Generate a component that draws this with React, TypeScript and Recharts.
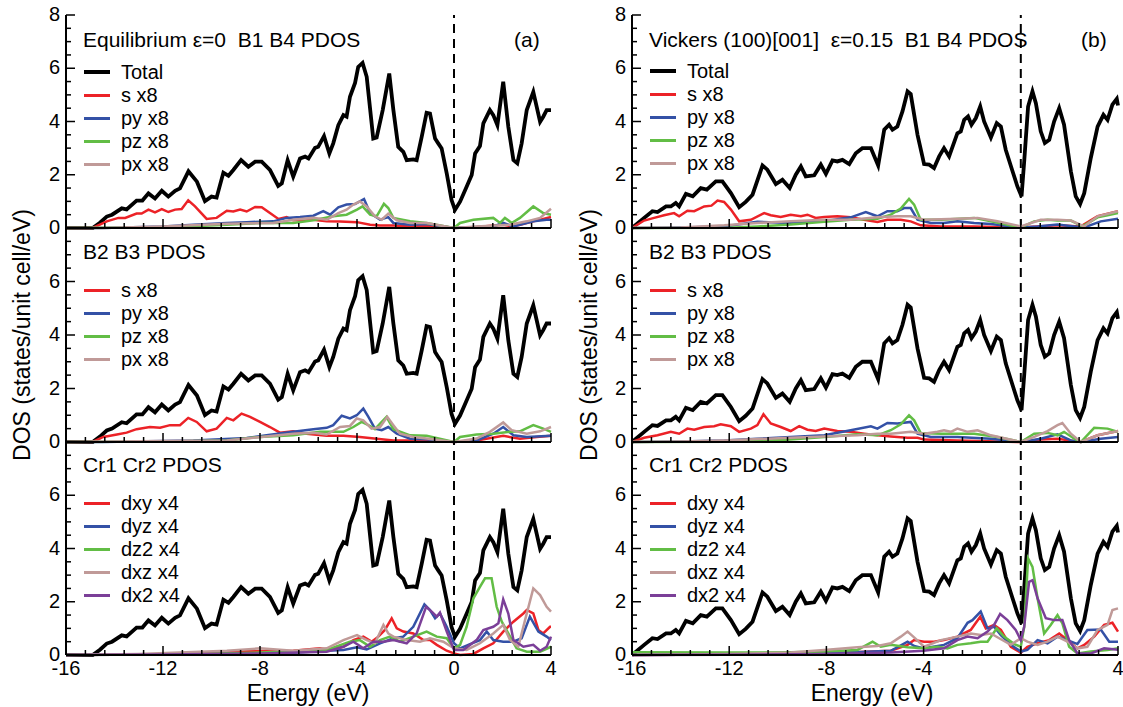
import { LineChart, Line, XAxis, YAxis, ReferenceLine } from 'recharts';

const FONT = '"Liberation Sans", Arial, Helvetica, sans-serif';

type Pt = [number, number];

// total DOS, equilibrium (left column) and Vickers strained (right column)
const TOTAL_EQ: Pt[] = [[-16,0],[-14.9,0],[-14.6,0.2],[-14.32,0.43],[-14.1,0.5],[-13.7,0.74],[-13.5,0.7],[-13.09,1.03],[-12.85,1.03],[-12.6,1.3],[-12.33,1.11],[-12.05,1.4],[-11.78,1.18],[-11.5,1.4],[-11.3,1.49],[-10.95,2.13],[-10.6,1.74],[-10.27,1.01],[-10.0,1.18],[-9.79,1.14],[-9.51,2.08],[-9.3,1.96],[-9.1,2.18],[-8.78,2.55],[-8.48,2.3],[-8.2,2.49],[-7.93,2.49],[-7.59,2.18],[-7.25,1.58],[-7.1,1.68],[-6.86,2.55],[-6.63,1.93],[-6.35,2.61],[-6.14,2.68],[-6.0,2.61],[-5.73,3.01],[-5.6,3.05],[-5.36,3.45],[-5.14,2.8],[-4.98,3.18],[-4.77,3.86],[-4.56,4.24],[-4.43,4.18],[-4.29,4.93],[-4.08,5.45],[-3.95,6.05],[-3.77,6.2],[-3.6,5.68],[-3.33,3.36],[-3.19,3.4],[-2.94,4.43],[-2.67,5.8],[-2.5,4.43],[-2.3,3.05],[-2.09,2.86],[-1.95,2.55],[-1.68,2.58],[-1.54,2.55],[-1.33,3.43],[-1.13,4.33],[-0.99,4.3],[-0.78,3.36],[-0.65,3.18],[-0.51,2.99],[-0.3,2.05],[-0.1,1.05],[0.04,0.68],[0.25,0.99],[0.52,1.55],[0.73,1.99],[0.87,2.8],[1.07,3.08],[1.21,3.93],[1.48,4.43],[1.62,4.24],[1.79,3.86],[2.03,5.49],[2.24,3.8],[2.45,2.55],[2.61,2.43],[2.79,3.18],[3.0,4.43],[3.27,5.11],[3.55,3.99],[3.68,4.18],[3.82,4.43],[4.0,4.43]];
const TOTAL_VK: Pt[] = [[-16,0],[-15.5,0.38],[-15.16,0.63],[-14.95,0.6],[-14.6,0.81],[-14.4,0.81],[-14.2,0.94],[-14.06,0.81],[-13.78,1.28],[-13.5,1.19],[-13.17,1.5],[-12.92,1.44],[-12.55,1.75],[-12.28,1.75],[-11.93,1.31],[-11.59,0.78],[-11.32,0.98],[-11.04,1.25],[-10.63,2.35],[-10.43,2.19],[-10.08,1.65],[-9.81,1.81],[-9.51,1.5],[-9.26,2.0],[-9.05,2.31],[-8.85,1.94],[-8.5,1.98],[-8.23,2.38],[-8.02,2.03],[-7.75,2.54],[-7.55,2.5],[-7.34,2.56],[-7.06,2.4],[-6.79,2.81],[-6.52,3.0],[-6.17,3.0],[-5.87,2.35],[-5.62,3.69],[-5.42,3.88],[-5.28,3.69],[-5.08,3.81],[-4.87,4.38],[-4.66,5.13],[-4.53,5.03],[-4.25,3.5],[-3.98,2.4],[-3.77,2.38],[-3.57,2.25],[-3.36,2.69],[-3.16,3.0],[-2.95,2.69],[-2.61,3.56],[-2.47,3.63],[-2.33,4.06],[-2.17,4.19],[-2.03,3.88],[-1.85,4.13],[-1.67,4.56],[-1.51,4.0],[-1.23,3.4],[-0.99,3.94],[-0.82,3.81],[-0.62,2.94],[-0.34,2.13],[-0.14,1.56],[0.03,1.19],[0.14,2.5],[0.3,4.56],[0.48,5.13],[0.62,4.69],[0.82,3.63],[0.99,3.19],[1.17,3.31],[1.37,4.0],[1.58,4.5],[1.78,3.88],[2.06,2.13],[2.26,1.19],[2.44,0.9],[2.61,1.31],[2.88,2.63],[3.16,3.81],[3.4,4.25],[3.57,4.06],[3.77,4.63],[3.95,4.85],[4.0,4.6]];

// B1 B4 PDOS, equilibrium
const EQ_B14_S: Pt[] = [[-16,0],[-14.9,0],[-14.32,0.25],[-13.84,0.38],[-13.56,0.38],[-13.09,0.54],[-12.88,0.54],[-12.6,0.69],[-12.33,0.59],[-12.05,0.71],[-11.78,0.6],[-11.5,0.69],[-11.23,0.71],[-10.96,1.04],[-10.68,0.81],[-10.2,0.34],[-9.79,0.38],[-9.37,0.65],[-9.1,0.62],[-8.82,0.69],[-8.55,0.62],[-8.2,0.79],[-7.93,0.78],[-7.59,0.56],[-7.24,0.34],[-6.9,0.41],[-6.63,0.29],[-6.2,0.31],[-5.8,0.31],[-5.25,0.25],[-4.7,0.24],[-4.0,0.22],[-3.46,0.12],[-3.05,0.09],[-2.5,0.09],[-1.81,0.06],[-1.13,0.09],[-0.44,0.04],[0,0],[0.93,0.04],[2.03,0.12],[2.45,0.06],[3.27,0.25],[3.68,0.34],[4,0.41]];
const EQ_B14_PY: Pt[] = [[-16,0],[-14.5,0],[-12,0.06],[-10.75,0.12],[-9.37,0.19],[-8.55,0.22],[-7.45,0.25],[-6.9,0.38],[-6.35,0.41],[-5.8,0.46],[-5.39,0.63],[-5.11,0.5],[-4.77,0.78],[-4.43,0.88],[-4.08,0.9],[-3.71,1.09],[-3.46,0.56],[-3.05,0.31],[-2.71,0.41],[-2.5,0.19],[-1.81,0.12],[-1.13,0.15],[0,0],[0.93,0.04],[1.62,0.06],[2.03,0.19],[2.45,0.06],[3.27,0.25],[3.82,0.31],[4,0.31]];
const EQ_B14_PZ: Pt[] = [[-16,0],[-12,0.02],[-9.37,0.12],[-8,0.19],[-6.63,0.19],[-5.8,0.29],[-4.98,0.44],[-4.43,0.5],[-4.0,0.69],[-3.77,0.81],[-3.46,0.5],[-3.19,0.44],[-2.89,0.91],[-2.71,0.75],[-2.5,0.38],[-1.81,0.25],[-1.13,0.19],[0,0],[0.25,0.19],[0.8,0.31],[1.62,0.38],[1.9,0.19],[2.1,0.38],[2.38,0.19],[2.72,0.38],[3.27,0.81],[3.68,0.56],[4,0.5]];
const EQ_B14_PX: Pt[] = [[-16,0],[-14.5,0],[-12,0.06],[-9.37,0.16],[-7.45,0.19],[-6.63,0.31],[-5.8,0.38],[-5.25,0.31],[-4.77,0.56],[-4.43,0.69],[-4.15,0.88],[-3.88,1.0],[-3.6,0.81],[-3.26,0.44],[-2.98,0.31],[-2.71,0.54],[-2.36,0.29],[-1.81,0.19],[-1.13,0.19],[0,0],[0.93,0.06],[2.31,0.12],[3.0,0.25],[3.55,0.38],[4,0.72]];

// B2 B3 PDOS, equilibrium
const EQ_B23_S: Pt[] = [[-16,0],[-14.9,0],[-14.46,0.19],[-13.9,0.28],[-13.5,0.35],[-13.09,0.48],[-12.54,0.56],[-12.12,0.53],[-11.71,0.63],[-11.3,0.63],[-10.96,0.9],[-10.61,0.75],[-10.2,0.4],[-9.79,0.5],[-9.37,0.9],[-9.1,0.81],[-8.76,1.06],[-8.41,0.94],[-8.0,0.75],[-7.59,0.56],[-7.18,0.35],[-6.63,0.4],[-6.08,0.31],[-5.25,0.23],[-4.56,0.23],[-3.88,0.19],[-3.19,0.12],[-2.5,0.06],[-1.13,0.06],[0,0],[0.93,0.06],[2.03,0.23],[2.72,0.12],[3.41,0.19],[4,0.23]];
const EQ_B23_PY: Pt[] = [[-16,0],[-14.5,0],[-10.75,0.06],[-8.55,0.15],[-7.73,0.25],[-6.63,0.38],[-5.8,0.48],[-5.25,0.53],[-4.98,0.63],[-4.63,0.98],[-4.29,0.88],[-4.01,1.0],[-3.74,1.25],[-3.53,0.94],[-3.26,0.5],[-2.98,0.44],[-2.71,0.56],[-2.36,0.31],[-1.81,0.12],[-1.13,0.1],[0,0],[0.93,0.06],[1.62,0.31],[2.03,0.56],[2.45,0.25],[3.0,0.19],[4,0.23]];
const EQ_B23_PZ: Pt[] = [[-16,0],[-12,0.02],[-9.37,0.06],[-8,0.19],[-6.63,0.25],[-5.53,0.38],[-4.56,0.38],[-4.15,0.56],[-3.81,0.75],[-3.53,0.63],[-3.26,0.48],[-2.98,0.75],[-2.78,0.94],[-2.5,0.48],[-1.81,0.25],[-1.13,0.23],[0,0],[0.25,0.19],[0.93,0.28],[1.62,0.31],[2.31,0.38],[2.72,0.4],[3.27,0.63],[3.68,0.5],[4,0.38]];
const EQ_B23_PX: Pt[] = [[-16,0],[-12,0.04],[-9.37,0.06],[-7.45,0.23],[-6.63,0.31],[-5.8,0.35],[-5.25,0.28],[-4.7,0.56],[-4.29,0.6],[-4.01,0.88],[-3.74,0.81],[-3.4,0.5],[-3.05,0.56],[-2.75,0.94],[-2.5,0.63],[-2.23,0.31],[-1.68,0.19],[-1.13,0.13],[0,0],[0.93,0.13],[1.48,0.38],[2.03,0.73],[2.38,0.44],[3.0,0.31],[3.55,0.4],[4,0.56]];

// Cr1 Cr2 PDOS, equilibrium
const EQ_CR_DXY: Pt[] = [[-16,0],[-13,0.02],[-10.75,0.06],[-9.37,0.12],[-8,0.15],[-6.63,0.16],[-5.53,0.25],[-5.11,0.19],[-4.56,0.31],[-4.15,0.56],[-3.74,0.69],[-3.4,0.5],[-3.12,0.69],[-2.85,0.94],[-2.57,1.38],[-2.36,1.0],[-2.09,0.88],[-1.68,0.81],[-1.26,0.56],[-0.99,0.56],[-0.71,0.38],[-0.3,0.16],[0,0.06],[0.25,0],[0.8,0.04],[1.21,0.25],[1.62,0.44],[2.03,0.88],[2.45,1.25],[2.86,1.56],[3.0,1.69],[3.27,1.56],[3.48,0.94],[3.68,0.81],[3.96,1.06],[4,1.06]];
const EQ_CR_DYZ: Pt[] = [[-16,0],[-13,0.02],[-9.37,0.04],[-6.63,0.08],[-5.25,0.16],[-4.56,0.19],[-4.0,0.29],[-3.6,0.21],[-3.05,0.44],[-2.5,0.63],[-2.09,0.69],[-1.68,1.06],[-1.22,1.9],[-0.99,1.69],[-0.78,1.38],[-0.58,1.56],[-0.3,1.06],[0,0.44],[0.25,0.25],[0.66,0.41],[1.07,0.56],[1.35,0.88],[1.62,0.56],[2.03,0.5],[2.45,0.5],[2.79,0.63],[3.13,1.44],[3.48,0.88],[3.82,0.69],[4,0.56]];
const EQ_CR_DZ2: Pt[] = [[-16,0],[-12,0.02],[-8,0.09],[-5.25,0.19],[-4.29,0.5],[-3.88,0.56],[-3.46,0.31],[-3.05,0.56],[-2.64,0.69],[-2.23,0.5],[-1.68,0.69],[-1.13,0.88],[-0.71,0.69],[-0.3,0.63],[0,0.25],[0.25,0.38],[0.52,1.06],[0.8,2.13],[1.07,2.56],[1.28,2.88],[1.55,2.88],[1.76,1.81],[1.97,1.25],[2.24,0.81],[2.58,0.25],[3.0,0.12],[3.55,0.12],[4,0.31]];
const EQ_CR_DXZ: Pt[] = [[-16,0],[-13,0.04],[-9.37,0.16],[-8,0.25],[-6.63,0.16],[-5.25,0.25],[-4.56,0.56],[-4.0,0.75],[-3.6,0.56],[-3.26,0.44],[-2.91,1.13],[-2.71,0.81],[-2.5,0.69],[-1.95,0.56],[-1.4,0.5],[-0.99,0.63],[-0.44,0.5],[0,0.25],[0.52,0.19],[1.07,0.44],[1.62,0.81],[2.03,1.13],[2.31,0.56],[2.65,0.31],[2.93,1.31],[3.27,2.5],[3.55,2.25],[3.82,1.81],[4,1.63]];
const EQ_CR_DX2: Pt[] = [[-16,0],[-12,0.02],[-8,0.06],[-5.25,0.12],[-4.56,0.31],[-4.15,0.5],[-3.74,0.25],[-3.33,0.5],[-2.91,0.5],[-2.5,0.56],[-1.95,0.44],[-1.54,0.81],[-1.15,1.81],[-0.92,1.63],[-0.71,1.44],[-0.58,1.59],[-0.3,0.88],[0,0.19],[0.38,0.19],[0.93,0.56],[1.21,0.94],[1.62,1.06],[1.83,1.19],[2.03,2.09],[2.24,1.56],[2.45,0.56],[2.86,0.31],[3.27,0.38],[3.55,0.16],[3.82,0.31],[4,0.69]];

// B1 B4 PDOS, Vickers
const VK_B14_S: Pt[] = [[-16,0],[-15.5,0.28],[-15.09,0.38],[-14.68,0.48],[-14.27,0.56],[-14.06,0.44],[-13.72,0.65],[-13.44,0.63],[-13.03,0.81],[-12.73,0.84],[-12.48,1.03],[-12.21,0.98],[-11.93,0.69],[-11.59,0.25],[-11.11,0.31],[-10.56,0.56],[-10.29,0.48],[-9.88,0.41],[-9.47,0.5],[-9.05,0.44],[-8.78,0.5],[-8.44,0.38],[-8.09,0.41],[-7.55,0.44],[-7.0,0.4],[-6.45,0.31],[-5.9,0.23],[-5.49,0.31],[-4.94,0.31],[-4.53,0.25],[-4.12,0.1],[-3.29,0.06],[-1.92,0.06],[0,0.02],[1.51,0.1],[2.47,0.06],[3.16,0.44],[4,0.63]];
const VK_B14_PY: Pt[] = [[-16,0],[-14,0.02],[-12.2,0.06],[-10.84,0.23],[-9.47,0.19],[-8.09,0.25],[-7.0,0.4],[-6.38,0.6],[-5.9,0.44],[-5.49,0.63],[-5.08,0.63],[-4.8,0.75],[-4.53,0.75],[-4.25,0.31],[-3.7,0.19],[-3.16,0.19],[-2.61,0.25],[-1.92,0.19],[-1.23,0.15],[0,0.02],[0.69,0.06],[1.51,0.13],[2.2,0.06],[2.61,0.02],[3.29,0.25],[4,0.35]];
const VK_B14_PZ: Pt[] = [[-16,0],[-12,0.01],[-10.84,0.06],[-9.47,0.13],[-8.09,0.23],[-7.0,0.31],[-5.9,0.35],[-5.35,0.5],[-4.94,0.73],[-4.6,1.09],[-4.39,0.88],[-4.12,0.31],[-3.29,0.31],[-1.92,0.38],[-1.23,0.25],[0,0.02],[0.55,0.25],[1.1,0.31],[1.51,0.28],[2.06,0.28],[2.54,0.06],[3.16,0.4],[3.57,0.48],[4,0.56]];
const VK_B14_PX: Pt[] = [[-16,0],[-14,0.02],[-12.2,0.1],[-10.84,0.19],[-9.47,0.25],[-8.09,0.31],[-7.0,0.31],[-5.9,0.4],[-5.08,0.44],[-4.53,0.44],[-3.98,0.31],[-2.61,0.35],[-1.78,0.38],[-0.96,0.25],[0,0.06],[0.82,0.31],[1.51,0.31],[2.06,0.28],[2.61,0.06],[3.16,0.44],[4,0.63]];

// B2 B3 PDOS, Vickers
const VK_B23_S: Pt[] = [[-16,0],[-15.5,0.16],[-14.95,0.25],[-14.4,0.38],[-14.06,0.31],[-13.72,0.5],[-13.44,0.46],[-13.03,0.56],[-12.62,0.59],[-12.35,0.66],[-11.93,0.59],[-11.59,0.38],[-11.11,0.5],[-10.84,0.63],[-10.59,1.04],[-10.29,0.69],[-9.88,0.56],[-9.47,0.41],[-9.12,0.59],[-8.78,0.46],[-8.44,0.41],[-8.09,0.5],[-7.55,0.41],[-7.0,0.38],[-6.45,0.31],[-5.9,0.25],[-5.35,0.21],[-4.66,0.16],[-4.25,0.16],[-3.98,0.09],[-2.61,0.06],[0,0],[0.82,0.09],[1.51,0.12],[2.47,0],[3.16,0.25],[4,0.41]];
const VK_B23_PY: Pt[] = [[-16,0],[-14,0.02],[-12.2,0.06],[-10.84,0.12],[-9.47,0.19],[-8.09,0.25],[-7.0,0.44],[-6.17,0.59],[-5.9,0.5],[-5.49,0.71],[-5.08,0.69],[-4.53,0.75],[-4.25,0.31],[-3.7,0.19],[-2.61,0.19],[-1.23,0.12],[0,0],[0.82,0.12],[1.51,0.29],[2.06,0.06],[2.47,0],[3.29,0.12],[4,0.19]];
const VK_B23_PZ: Pt[] = [[-16,0],[-12,0.01],[-10.84,0.04],[-9.47,0.09],[-8.09,0.19],[-6.72,0.29],[-5.9,0.25],[-5.35,0.44],[-4.94,0.66],[-4.6,1.0],[-4.39,0.81],[-4.12,0.34],[-3.29,0.31],[-1.92,0.31],[-0.96,0.19],[0,0],[0.55,0.31],[1.1,0.34],[1.51,0.25],[1.78,0.38],[2.2,0.12],[2.47,0],[3.02,0.53],[3.57,0.5],[4,0.38]];
const VK_B23_PX: Pt[] = [[-16,0],[-14,0.02],[-12.2,0.06],[-9.47,0.16],[-8.09,0.21],[-6.72,0.25],[-5.9,0.31],[-5.35,0.31],[-4.53,0.38],[-3.98,0.31],[-3.43,0.38],[-3.16,0.44],[-2.88,0.38],[-2.61,0.5],[-2.19,0.38],[-1.78,0.44],[-1.23,0.25],[0,0],[0.55,0.19],[1.1,0.41],[1.51,0.63],[1.71,0.71],[2.06,0.31],[2.47,0],[3.16,0.25],[4,0.41]];

// Cr1 Cr2 PDOS, Vickers
const VK_CR_DXY: Pt[] = [[-16,0],[-12,0.02],[-8.09,0.06],[-5.35,0.16],[-4.66,0.38],[-4.39,0.56],[-3.98,0.5],[-3.57,0.5],[-3.16,0.56],[-2.61,0.69],[-2.06,0.94],[-1.67,1.44],[-1.44,1.0],[-1.1,1.13],[-0.82,0.94],[-0.41,0.31],[0,0.09],[0.27,0.31],[0.69,0.44],[1.17,0.56],[1.58,0.81],[1.92,0.56],[2.33,0.25],[2.61,0.38],[3.02,0.69],[3.43,1.13],[3.77,1.21],[4,0.88]];
const VK_CR_DYZ: Pt[] = [[-16,0],[-12,0.02],[-8.09,0.06],[-5.35,0.16],[-4.66,0.5],[-4.39,0.34],[-3.98,0.25],[-3.16,0.38],[-2.61,0.63],[-2.19,1.21],[-1.99,1.31],[-1.65,1.63],[-1.37,1.0],[-1.1,1.06],[-0.82,0.75],[-0.41,0.38],[0,0.13],[0.27,0.19],[0.69,0.56],[1.1,0.44],[1.51,0.69],[1.92,0.56],[2.33,0.41],[2.74,0.94],[3.29,0.96],[3.64,0.5],[4,0.5]];
const VK_CR_DZ2: Pt[] = [[-16,0.1],[-12,0.09],[-9.47,0.1],[-8.09,0.13],[-6.72,0.19],[-6.1,0.5],[-5.76,0.31],[-5.35,0.38],[-4.66,0.29],[-3.98,0.25],[-3.43,0.31],[-3.02,0.25],[-2.61,0.38],[-2.06,0.44],[-1.65,0.5],[-1.37,0.5],[-0.99,1.0],[-0.69,0.69],[-0.27,0.41],[0,0.31],[0.14,1.06],[0.3,3.63],[0.48,3.31],[0.69,2.13],[0.96,0.81],[1.23,1.13],[1.51,1.5],[1.71,1.19],[1.99,0.31],[2.33,0.06],[2.88,0.13],[3.57,0.19],[4,0.25]];
const VK_CR_DXZ: Pt[] = [[-16,0],[-12,0.04],[-9.47,0.09],[-8.09,0.19],[-6.72,0.29],[-5.9,0.34],[-5.35,0.44],[-4.94,0.69],[-4.66,0.88],[-4.39,0.66],[-3.98,0.31],[-3.29,0.56],[-2.61,0.69],[-2.06,0.81],[-1.65,0.75],[-1.23,0.81],[-0.89,0.63],[-0.41,0.38],[0,0.63],[0.27,0.5],[0.69,0.38],[1.1,0.5],[1.51,0.69],[1.92,0.5],[2.33,0.25],[2.74,0.31],[3.16,0.94],[3.57,1.13],[3.77,1.69],[4,1.75]];
const VK_CR_DX2: Pt[] = [[-16,0],[-12,0.01],[-8.09,0.04],[-5.35,0.09],[-4.0,0.16],[-3.16,0.25],[-2.61,0.56],[-2.19,0.69],[-1.78,0.63],[-1.37,0.88],[-1.1,1.13],[-0.85,1.54],[-0.55,1.31],[-0.21,0.94],[0,0.56],[0.14,1.06],[0.34,2.75],[0.48,2.81],[0.69,2.13],[1.03,1.38],[1.37,1.31],[1.71,1.31],[1.99,0.56],[2.33,0.06],[2.88,0.06],[3.43,0.25],[4,0.2]];

const P_LABELS = ['s x8', 'py x8', 'pz x8', 'px x8'];
const D_LABELS = ['dxy x4', 'dyz x4', 'dz2 x4', 'dxz x4', 'dx2 x4'];
const P_COLORS = ['#ec2227', '#3451a6', '#62bd45', '#c09a98'];
const D_COLORS = ['#ec2227', '#3451a6', '#62bd45', '#c09a98', '#7b3f98'];

const X_TICKS = Array.from({ length: 26 }, (_, i) => -16 + i * 0.8);
const Y_TICKS = Array.from({ length: 17 }, (_, i) => i * 0.5);

const COL_LEFT = [66, 632];
const COL_W = [485, 486];
const ROW_TOP = [15, 228, 442];
const ROW_H = [213, 214, 213];
const YW = 46;
const PAD = 14;

const toData = (pts: Pt[]) => pts.map(([e, v]) => ({ e, v }));
const isMajorX = (v: number) => Math.abs(Math.round(v * 10) % 40) === 0;
const isMajorY = (v: number) => Math.abs(Math.round(v * 10) % 20) === 0;

function BottomTick(props: any) {
  const { x, y, payload, showLabel } = props;
  const major = isMajorX(payload.value);
  return (
    <g>
      <line x1={x} x2={x} y1={y} y2={y - (major ? 9 : 5)} stroke="#000" strokeWidth={1.5} />
      {showLabel && major && (
        <text x={x} y={y + 20} textAnchor="middle" fontSize={20} fontFamily={FONT} fill="#000">
          {Math.round(payload.value)}
        </text>
      )}
    </g>
  );
}

function TopTick(props: any) {
  const { x, y, payload } = props;
  const major = isMajorX(payload.value);
  return <line x1={x} x2={x} y1={y} y2={y + (major ? 9 : 5)} stroke="#000" strokeWidth={1.5} />;
}

function LeftTick(props: any) {
  const { x, y, payload, showTop } = props;
  const v = payload.value;
  const major = isMajorY(v);
  const label = major && (v < 7.9 || showTop);
  return (
    <g>
      <line x1={x} x2={x + (major ? 9 : 5)} y1={y} y2={y} stroke="#000" strokeWidth={1.5} />
      {label && (
        <text x={x - 6} y={y + 6} textAnchor="end" fontSize={20} fontFamily={FONT} fill="#000">
          {Math.round(v)}
        </text>
      )}
    </g>
  );
}

function RightTick(props: any) {
  const { x, y, payload } = props;
  const major = isMajorY(payload.value);
  return <line x1={x} x2={x - (major ? 9 : 5)} y1={y} y2={y} stroke="#000" strokeWidth={1.5} />;
}

type PanelProps = {
  col: number;
  row: number;
  total: Pt[];
  series: Pt[][];
  labels: string[];
  colors: string[];
  title: string;
  tag?: string;
  legendTop: number;
  titleTop: number;
};

function Panel({ col, row, total, series, labels, colors, title, tag, legendTop, titleTop }: PanelProps) {
  const left = COL_LEFT[col];
  const top = ROW_TOP[row];
  const w = COL_W[col];
  const h = ROW_H[row];
  const bottom = row === 2;
  const xh = bottom ? 34 : PAD;
  const legend = [
    ...(row === 0 ? [{ label: 'Total', color: '#000', thick: true }] : []),
    ...labels.map((l, i) => ({ label: l, color: colors[i], thick: false })),
  ];
  const text = { position: 'absolute' as const, fontFamily: FONT, fontSize: 20, color: '#000', whiteSpace: 'pre' as const, lineHeight: '22px' };
  return (
    <>
      <div style={{ position: 'absolute', left: left - YW, top: top - PAD }}>
        <LineChart
          width={YW + w + PAD}
          height={PAD + h + xh}
          margin={{ top: PAD, right: PAD, bottom: 0, left: 0 }}
        >
          <XAxis
            xAxisId="b"
            dataKey="e"
            type="number"
            domain={[-16, 4]}
            ticks={X_TICKS}
            interval={0}
            height={xh}
            tickSize={0}
            tickMargin={0}
            tickLine={false}
            axisLine={{ stroke: '#000', strokeWidth: 2 }}
            tick={<BottomTick showLabel={bottom} />}
          />
          <XAxis
            xAxisId="t"
            orientation="top"
            dataKey="e"
            type="number"
            domain={[-16, 4]}
            ticks={X_TICKS}
            interval={0}
            height={0}
            tickSize={0}
            tickMargin={0}
            tickLine={false}
            axisLine={{ stroke: '#000', strokeWidth: 2 }}
            tick={<TopTick />}
          />
          <YAxis
            yAxisId="l"
            type="number"
            domain={[0, 8]}
            ticks={Y_TICKS}
            interval={0}
            width={YW}
            tickSize={0}
            tickMargin={0}
            tickLine={false}
            axisLine={{ stroke: '#000', strokeWidth: 2 }}
            tick={<LeftTick showTop={row === 0} />}
          />
          <YAxis
            yAxisId="r"
            orientation="right"
            type="number"
            domain={[0, 8]}
            ticks={Y_TICKS}
            interval={0}
            width={0}
            tickSize={0}
            tickMargin={0}
            tickLine={false}
            axisLine={{ stroke: '#000', strokeWidth: 2 }}
            tick={<RightTick />}
          />
          <ReferenceLine xAxisId="b" yAxisId="l" x={0} stroke="#000" strokeWidth={2} strokeDasharray="9 6" />
          <Line
            xAxisId="b"
            yAxisId="l"
            data={toData(total)}
            dataKey="v"
            type="linear"
            stroke="#000"
            strokeWidth={3.8}
            dot={false}
            isAnimationActive={false}
          />
          {series.map((s, i) => (
            <Line
              key={labels[i]}
              xAxisId="b"
              yAxisId="l"
              data={toData(s)}
              dataKey="v"
              type="linear"
              stroke={colors[i]}
              strokeWidth={2.5}
              dot={false}
              isAnimationActive={false}
            />
          ))}
        </LineChart>
      </div>
      <div style={{ ...text, fontSize: 21, left: left + 17, top: top + titleTop - 11 }}>{title}</div>
      {tag && <div style={{ ...text, fontSize: 21, left: left + w - 37, top: top + titleTop - 11 }}>{tag}</div>}
      {legend.map((it, i) => (
        <div key={it.label}>
          <div
            style={{
              position: 'absolute',
              left: left + 18,
              top: top + legendTop + i * 23 - (it.thick ? 2 : 1.5),
              width: 26,
              height: it.thick ? 4 : 3,
              background: it.color,
            }}
          />
          <div style={{ ...text, left: left + 55, top: top + legendTop + i * 23 - 11 }}>{it.label}</div>
        </div>
      ))}
    </>
  );
}

export default function App() {
  const axisTitle = { position: 'absolute' as const, fontFamily: FONT, fontSize: 23, color: '#000', whiteSpace: 'nowrap' as const, lineHeight: '24px' };
  return (
    <div style={{ position: 'absolute', left: 0, top: 0, width: 1123, height: 707, background: '#fff', overflow: 'hidden' }}>
      <Panel col={0} row={0} total={TOTAL_EQ} series={[EQ_B14_S, EQ_B14_PY, EQ_B14_PZ, EQ_B14_PX]} labels={P_LABELS} colors={P_COLORS}
        title="Equilibrium ε=0  B1 B4 PDOS" tag="(a)" titleTop={25} legendTop={57} />
      <Panel col={0} row={1} total={TOTAL_EQ} series={[EQ_B23_S, EQ_B23_PY, EQ_B23_PZ, EQ_B23_PX]} labels={P_LABELS} colors={P_COLORS}
        title="B2 B3 PDOS" titleTop={24} legendTop={62} />
      <Panel col={0} row={2} total={TOTAL_EQ} series={[EQ_CR_DXY, EQ_CR_DYZ, EQ_CR_DZ2, EQ_CR_DXZ, EQ_CR_DX2]} labels={D_LABELS} colors={D_COLORS}
        title="Cr1 Cr2 PDOS" titleTop={23} legendTop={61} />
      <Panel col={1} row={0} total={TOTAL_VK} series={[VK_B14_S, VK_B14_PY, VK_B14_PZ, VK_B14_PX]} labels={P_LABELS} colors={P_COLORS}
        title="Vickers (100)[001]  ε=0.15  B1 B4 PDOS" tag="(b)" titleTop={25} legendTop={56} />
      <Panel col={1} row={1} total={TOTAL_VK} series={[VK_B23_S, VK_B23_PY, VK_B23_PZ, VK_B23_PX]} labels={P_LABELS} colors={P_COLORS}
        title="B2 B3 PDOS" titleTop={24} legendTop={62} />
      <Panel col={1} row={2} total={TOTAL_VK} series={[VK_CR_DXY, VK_CR_DYZ, VK_CR_DZ2, VK_CR_DXZ, VK_CR_DX2]} labels={D_LABELS} colors={D_COLORS}
        title="Cr1 Cr2 PDOS" titleTop={23} legendTop={61} />
      <div style={{ ...axisTitle, left: 308, top: 693, transform: 'translate(-50%, -50%)' }}>Energy (eV)</div>
      <div style={{ ...axisTitle, left: 872, top: 693, transform: 'translate(-50%, -50%)' }}>Energy (eV)</div>
      <div style={{ ...axisTitle, left: 22, top: 335, transform: 'translate(-50%, -50%) rotate(-90deg)' }}>DOS (states/unit cell/eV)</div>
      <div style={{ ...axisTitle, left: 589, top: 335, transform: 'translate(-50%, -50%) rotate(-90deg)' }}>DOS (states/unit cell/eV)</div>
    </div>
  );
}
